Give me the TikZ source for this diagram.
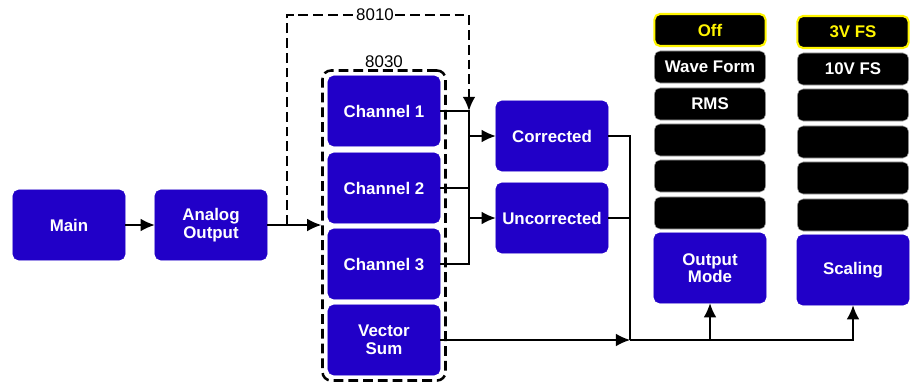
\documentclass[tikz,border=0pt]{standalone}
\usepackage{fontspec}
\setmainfont{Liberation Sans}
\usetikzlibrary{arrows.meta,fit}
\definecolor{boxblue}{RGB}{33,0,200}
\definecolor{selyellow}{RGB}{255,245,0}
\tikzset{
  block/.style={rectangle, rounded corners=4pt, fill=boxblue, draw=boxblue,
    text=white, font=\fontsize{12}{12.5}\selectfont\bfseries, align=center,
    minimum width=2.8cm, minimum height=1.75cm, inner sep=2pt},
  opt/.style={rectangle, rounded corners=4pt, fill=black, draw=gray!70,
    text=white, font=\fontsize{12}{12.5}\selectfont\bfseries,
    minimum width=2.78cm, minimum height=0.8cm, inner sep=1pt},
  optsel/.style={opt, draw=selyellow, line width=1.5pt, text=selyellow},
  dashline/.style={line width=1.8pt, dash pattern=on 7pt off 3.5pt},
  group/.style={rectangle, rounded corners=6pt, draw, dashline,
    inner xsep=0.13cm, inner ysep=0.13cm},
  lbl/.style={font=\fontsize{12}{12.5}\selectfont, inner sep=1pt},
  wire/.style={line width=1pt},
  arr/.style={wire, -{Latex[length=10pt,width=9pt]}}
}
\begin{document}
\begin{tikzpicture}[x=0.025cm,y=-0.025cm]
  \useasboundingbox (0,0) rectangle (911,381);
  % source chain
  \node[block] (main) at (69,225) {Main};
  \node[block] (analog) at (211,225) {Analog\\Output};
  % channels (8030)
  \node[block] (ch1) at (384,111) {Channel 1};
  \node[block] (ch2) at (384,188) {Channel 2};
  \node[block] (ch3) at (384,264) {Channel 3};
  \node[block] (vsum) at (384,340) {Vector\\Sum};
  \node[group, fit=(ch1)(vsum)] (g8030) {};
  \node[lbl, above] (lbl8030) at (g8030.north) {8030};
  % correction
  \node[block] (corr) at (552,136) {Corrected};
  \node[block] (uncorr) at (552,218) {Uncorrected};
  % output mode column
  \node[optsel] (off) at (710,30) {Off};
  \node[opt] (wave) at (710,67) {Wave Form};
  \node[opt] (rms) at (710,104) {RMS};
  \node[opt] (om4) at (710,140) {};
  \node[opt] (om5) at (710,176) {};
  \node[opt] (om6) at (710,213) {};
  \node[block] (omode) at (710,268) {Output\\Mode};
  % scaling column
  \node[optsel] (fs3) at (853,32) {3V FS};
  \node[opt] (fs10) at (853,69) {10V FS};
  \node[opt] (sc3) at (853,105) {};
  \node[opt] (sc4) at (853,142) {};
  \node[opt] (sc5) at (853,178) {};
  \node[opt] (sc6) at (853,215) {};
  \node[block] (scal) at (853,270) {Scaling};

  % helper coordinates
  \coordinate (t8010) at (287,225);
  \coordinate (busx) at (469,0);
  \coordinate (rbus) at (630,0);

  % connectors
  \draw[arr] (main) -- (analog);
  \draw[arr] (analog.east) -- (analog.east -| g8030.west);
  \node[lbl, fill=white] (lbl8010) at (375,15) {8010};
  \draw[dashline] (t8010) |- (lbl8010.west);
  \draw[dashline, -{Latex[length=10pt,width=9pt]}] (lbl8010.east) -| (ch1.east -| busx);
  \draw[dashline] (ch1.east -| busx) -- ++(0,23);
  \draw[wire] (ch1.east) -- (ch1.east -| busx) -- (ch3.east -| busx) -- (ch3.east);
  \draw[wire] (ch2.east) -- (ch2.east -| busx);
  \draw[arr] (corr.west -| busx) -- (corr.west);
  \draw[arr] (uncorr.west -| busx) -- (uncorr.west);
  \draw[wire] (corr.east) -| (vsum.east -| rbus);
  \draw[wire] (uncorr.east) -- (uncorr.east -| rbus);
  \draw[arr] (vsum.east) -- (vsum.east -| rbus);
  \draw[arr] (vsum.east -| rbus) -| (scal.south);
  \draw[arr] (vsum.east -| omode.south) -- (omode.south);
\end{tikzpicture}
\end{document}
